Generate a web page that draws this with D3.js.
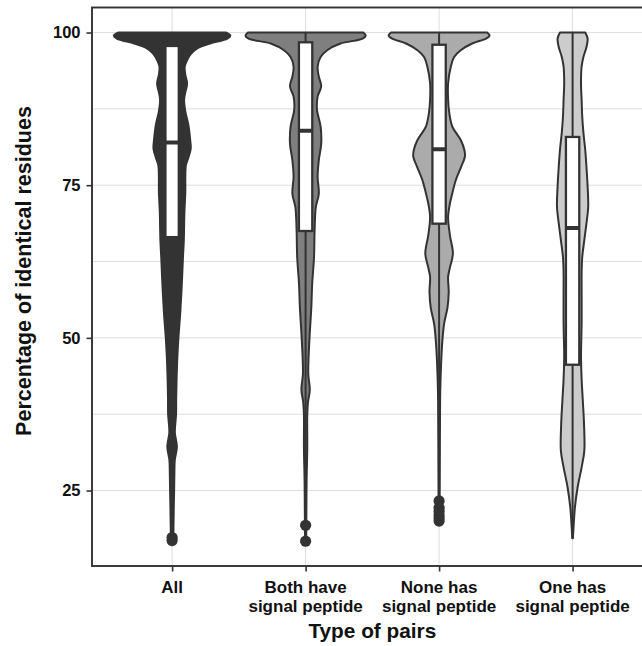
<!DOCTYPE html>
<html>
<head>
<meta charset="utf-8">
<script src="https://cdn.jsdelivr.net/npm/d3@7"></script>
<style>
  html, body { margin: 0; padding: 0; background: #ffffff; }
  svg { display: block; }
  text { font-family: "Liberation Sans", Arial, Helvetica, sans-serif; font-weight: bold; }
</style>
</head>
<body>
<svg id="chart" width="642" height="646"></svg>
<script>
// Pair types (x categories), drawn as two-line tick labels
const categories = ["All", "Both", "None", "One"];
const categoryLabels = [
  ["All"],
  ["Both have", "signal peptide"],
  ["None has", "signal peptide"],
  ["One has", "signal peptide"]
];

// Y axis ticks (percentage of identical residues)
const yTicks = [25, 50, 75, 100];
const yMinorTicks = [37.5, 62.5, 87.5];

// Boxplot summaries per pair type
const q1Values = [66.5, 67.5, 68.7, 45.6];
const medianValues = [82.0, 83.9, 80.9, 68.0];
const q3Values = [97.8, 98.4, 98.0, 82.9];
const whiskerLowValues = [19.8, 21.4, 25.0, 17.2];
const whiskerHighValues = [100, 100, 100, 100];
const outlierValues = [
  [17.3, 16.8],
  [19.3, 16.7],
  [23.3, 22.2, 21.6, 21.0, 20.5, 20.0],
  []
];

// Kernel density profiles: [percentage, relative density]
const densityAll = [
  [100, .90], [99.5, .97], [99.0, .92], [98.2, .63], [97.4, .42], [96.6, .32], [95.5, .25],
  [94.4, .21], [93.1, .22], [91.6, .25], [90.2, .22], [89.0, .20], [87.1, .22], [84.9, .27],
  [82.5, .30], [81.0, .31], [79.5, .27], [78.3, .23], [76.1, .22], [73.9, .22], [70.6, .205],
  [66.0, .195], [63.0, .18], [58.5, .16], [54.0, .135], [50.0, .105], [47.0, .088], [43.0, .074],
  [40.0, .068], [37.5, .066], [34.5, .046], [32.2, .08], [30.0, .045], [27.8, .038],
  [24.6, .033], [22.2, .028], [19.5, .024], [16.8, .02]
];
const densityBoth = [
  [100, .96], [99.5, 1.0], [99.0, .95], [98.2, .58], [97.1, .36], [96.0, .25], [94.4, .20],
  [92.8, .22], [91.2, .26], [89.5, .20], [87.3, .19], [84.6, .25], [81.8, .26], [79.1, .22],
  [76.4, .20], [73.6, .22], [71.4, .17], [67.6, .15], [63.2, .14], [58.9, .11], [55.0, .095],
  [51.2, .072], [46.9, .05], [44.0, .045], [41.5, .07], [39.5, .04], [37.5, .028],
  [32.1, .028], [26.6, .017], [20.0, .012], [16.7, .01]
];
const densityNone = [
  [100, .80], [99.5, .84], [99.0, .78], [98.2, .55], [97.1, .36], [96.0, .25], [94.4, .195],
  [91.7, .15], [89.0, .15], [86.8, .17], [84.6, .22], [82.4, .36], [80.8, .42], [79.7, .43],
  [78.1, .37], [75.9, .28], [73.7, .22], [72.0, .18], [69.8, .15], [66.8, .18], [63.8, .23],
  [61.5, .18], [60.0, .15], [57.5, .16], [55.0, .14], [52.3, .083], [49.6, .055], [46.8, .038],
  [43.5, .025], [40.0, .017], [30.0, .012], [20.0, .008]
];
const densityOne = [
  [100, .21], [99.0, .25], [97.6, .23], [96.0, .18], [94.4, .15], [91.7, .14], [89.0, .15],
  [86.3, .16], [83.6, .18], [80.8, .21], [78.1, .23], [74.8, .25], [71.5, .26], [68.7, .23],
  [66.0, .195], [63.2, .16], [60.5, .15], [57.8, .15], [52.3, .15], [46.9, .14], [43.3, .15],
  [39.7, .17], [35.9, .19], [31.5, .195], [28.8, .15], [25.5, .083], [22.2, .038],
  [20.0, .022], [17.2, .005]
];
const densities = [densityAll, densityBoth, densityNone, densityOne];

// Styling
const fillColors = ["#333333", "#7f7f7f", "#ababab", "#cccccc"];
const ink = "#333333";

const svg = d3.select("#chart");
const margin = { left: 92, top: 7.5, bottom: 566, right: 652.7 };

const x = d3.scalePoint()
  .domain(categories)
  .range([margin.left, margin.right])
  .padding(0.6);

const y = d3.scaleLinear()
  .domain([12.64, 104.1])
  .range([margin.bottom, margin.top]);

const halfWidth = d3.scaleLinear()
  .domain([0, 1])
  .range([0, 0.45 * x.step()]);

const boxWidth = 0.1 * x.step();

// Clip for panel contents
svg.append("defs").append("clipPath").attr("id", "panel-clip")
  .append("rect")
  .attr("x", margin.left).attr("y", margin.top)
  .attr("width", margin.right - margin.left)
  .attr("height", margin.bottom - margin.top);

const panel = svg.append("g").attr("clip-path", "url(#panel-clip)");

// Grid lines
panel.append("g").selectAll("line.hgrid")
  .data(yTicks.concat(yMinorTicks))
  .join("line")
  .attr("x1", margin.left).attr("x2", margin.right)
  .attr("y1", d => y(d)).attr("y2", d => y(d))
  .attr("stroke", "#dedede").attr("stroke-width", 1);

panel.append("g").selectAll("line.vgrid")
  .data(categories)
  .join("line")
  .attr("x1", d => x(d)).attr("x2", d => x(d))
  .attr("y1", margin.top).attr("y2", margin.bottom)
  .attr("stroke", "#dedede").attr("stroke-width", 1);

// Violins
categories.forEach((cat, i) => {
  const cx = x(cat);
  const area = d3.area()
    .y(d => y(d[0]))
    .x0(d => cx - halfWidth(d[1]))
    .x1(d => cx + halfWidth(d[1]))
    .curve(d3.curveCatmullRom.alpha(0.5));
  panel.append("path")
    .datum(densities[i])
    .attr("d", area)
    .attr("fill", fillColors[i])
    .attr("stroke", ink)
    .attr("stroke-width", 2)
    .attr("stroke-linejoin", "round");
});

// Boxplots
categories.forEach((cat, i) => {
  const cx = x(cat);
  const g = panel.append("g");
  g.append("line")
    .attr("x1", cx).attr("x2", cx)
    .attr("y1", y(whiskerHighValues[i])).attr("y2", y(q3Values[i]))
    .attr("stroke", ink).attr("stroke-width", 2);
  g.append("line")
    .attr("x1", cx).attr("x2", cx)
    .attr("y1", y(q1Values[i])).attr("y2", y(whiskerLowValues[i]))
    .attr("stroke", ink).attr("stroke-width", 2);
  g.append("rect")
    .attr("x", cx - boxWidth / 2)
    .attr("y", y(q3Values[i]))
    .attr("width", boxWidth)
    .attr("height", y(q1Values[i]) - y(q3Values[i]))
    .attr("fill", "#ffffff")
    .attr("stroke", ink).attr("stroke-width", 2.3);
  g.append("line")
    .attr("x1", cx - boxWidth / 2).attr("x2", cx + boxWidth / 2)
    .attr("y1", y(medianValues[i])).attr("y2", y(medianValues[i]))
    .attr("stroke", ink).attr("stroke-width", 4);
  g.selectAll("circle")
    .data(outlierValues[i])
    .join("circle")
    .attr("cx", cx).attr("cy", d => y(d))
    .attr("r", 5.6)
    .attr("fill", ink);
});

// Panel border
svg.append("rect")
  .attr("x", margin.left).attr("y", margin.top)
  .attr("width", margin.right - margin.left)
  .attr("height", margin.bottom - margin.top)
  .attr("fill", "none")
  .attr("stroke", ink).attr("stroke-width", 1.9);

// Y axis
const yAxis = svg.append("g")
  .attr("transform", `translate(${margin.left},0)`)
  .call(d3.axisLeft(y).tickValues(yTicks).tickSize(5.5).tickPadding(6));
yAxis.select(".domain").remove();
yAxis.selectAll(".tick line").attr("stroke", ink).attr("stroke-width", 1.6);
yAxis.selectAll(".tick text")
  .attr("fill", "#111")
  .attr("font-size", "16.5px")
  .attr("font-weight", "bold");

// X axis
const xAxis = svg.append("g")
  .attr("transform", `translate(0,${margin.bottom})`)
  .call(d3.axisBottom(x).tickSize(5.5).tickFormat(""));
xAxis.select(".domain").remove();
xAxis.selectAll(".tick line").attr("stroke", ink).attr("stroke-width", 1.6);

const xLabels = svg.append("g");
categories.forEach((cat, i) => {
  const t = xLabels.append("text")
    .attr("x", x(cat))
    .attr("y", 592.5)
    .attr("text-anchor", "middle")
    .attr("font-size", "17px")
    .attr("fill", "#111");
  categoryLabels[i].forEach((line, j) => {
    t.append("tspan")
      .attr("x", x(cat))
      .attr("dy", j === 0 ? 0 : 19)
      .text(line);
  });
});

// Axis titles
svg.append("text")
  .attr("x", (margin.left + margin.right) / 2)
  .attr("y", 638)
  .attr("text-anchor", "middle")
  .attr("font-size", "20.8px")
  .attr("fill", "#111")
  .text("Type of pairs");

svg.append("text")
  .attr("transform", "translate(30.5,271) rotate(-90)")
  .attr("text-anchor", "middle")
  .attr("font-size", "21.5px")
  .attr("fill", "#111")
  .text("Percentage of identical residues");
</script>
</body>
</html>
